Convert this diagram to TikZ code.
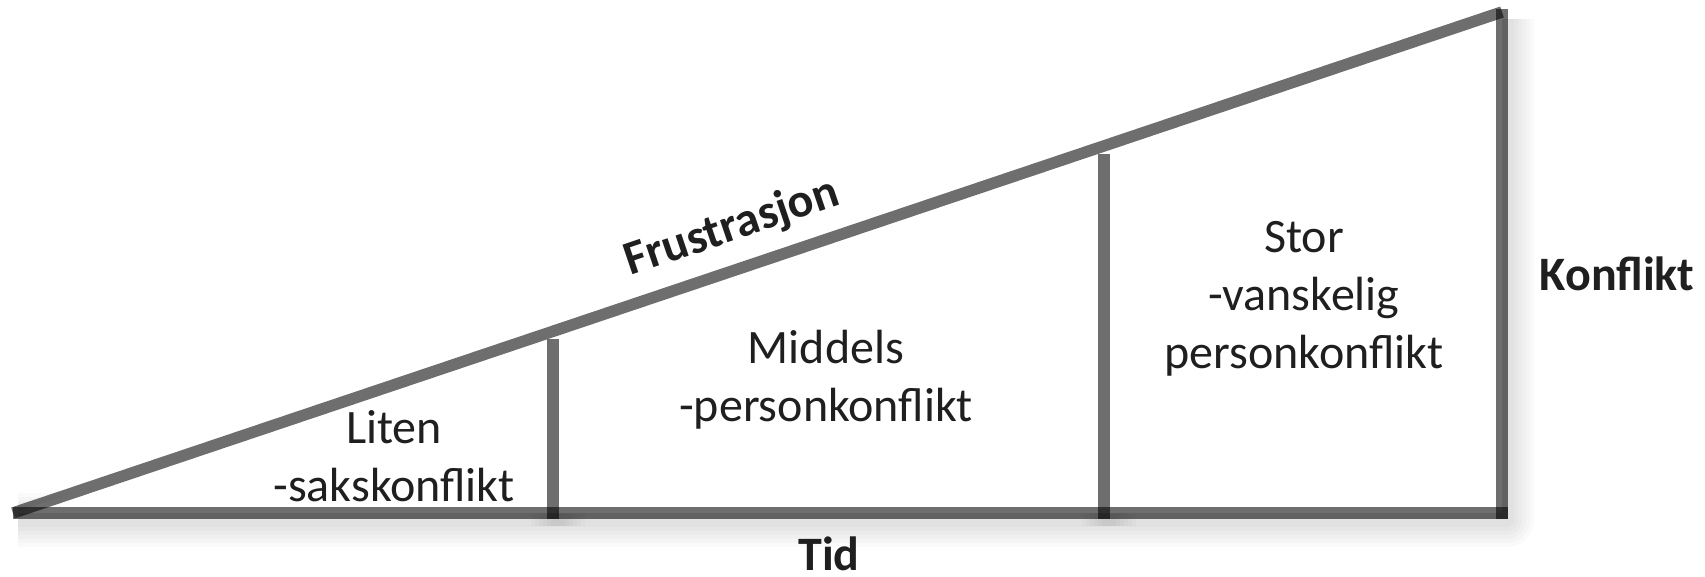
\documentclass[tikz,border=0pt]{standalone}
\usepackage{fontspec}
\setmainfont{Carlito}
\usetikzlibrary{calc}
\begin{document}
\begin{tikzpicture}[x=1pt,y=-1pt,
  bar/.style={line width=11.5pt, draw=black, draw opacity=0.57},
  glow/.style={draw=black, draw opacity=0.018, line join=round},
  lbl/.style={font=\fontsize{48}{58}\selectfont, align=center, text=black!88, inner sep=0pt},
  blbl/.style={font=\fontsize{48}{58}\selectfont\bfseries, align=center, text=black!88, inner sep=0pt}]
\useasboundingbox (0,0) rectangle (1705,577);
\coordinate (A) at (13,513);
\coordinate (B) at (1502,513);
\coordinate (C) at (1502,12);
\coordinate (Ctop) at (1502,9);
\coordinate (Bbot) at (1502,519);
\coordinate (Bend) at (1508,513);
\coordinate (M1) at ($(A)!0.3627!(C)$);
\coordinate (M2) at ($(A)!0.7327!(C)$);
\coordinate (M1b) at (M1 |- Bbot);
\coordinate (M2b) at (M2 |- Bbot);
% soft shadow
\foreach \w in {14,22,30,38,46,54}{
  \draw[glow, line width=\w pt] ([shift={(5,7)}]A) -- ([shift={(5,7)}]B) -- ([shift={(5,7)}]C);
  \draw[glow, line width=\w pt] ([shift={(5,7)}]M1) -- ([shift={(5,7)}]M1b);
  \draw[glow, line width=\w pt] ([shift={(5,7)}]M2) -- ([shift={(5,7)}]M2b);
}
\fill[white] (A) -- (B) -- (C) -- cycle;
% bars
\draw[bar] (A) -- (Bend);
\draw[bar] (A) -- (C);
\draw[bar] (Ctop) -- (Bbot);
\draw[bar] ([yshift=-8pt]M1) -- (M1b);
\draw[bar] ([yshift=-8pt]M2) -- (M2b);
% labels
\node[lbl] (liten) at (394,456) {Liten\\-sakskonflikt};
\node[lbl] (middels) at (826,380) {Middels\\-personkonflikt};
\node[lbl] (stor) at (1304,299) {Stor\\-vanskelig\\personkonflikt};
\node[blbl] (konflikt) at (1617,274) {Konflikt};
\node[blbl] (tid) at (829,554) {Tid};
\node[blbl, rotate=18.7] (frus) at (732,228) {Frustrasjon};
\end{tikzpicture}
\end{document}
